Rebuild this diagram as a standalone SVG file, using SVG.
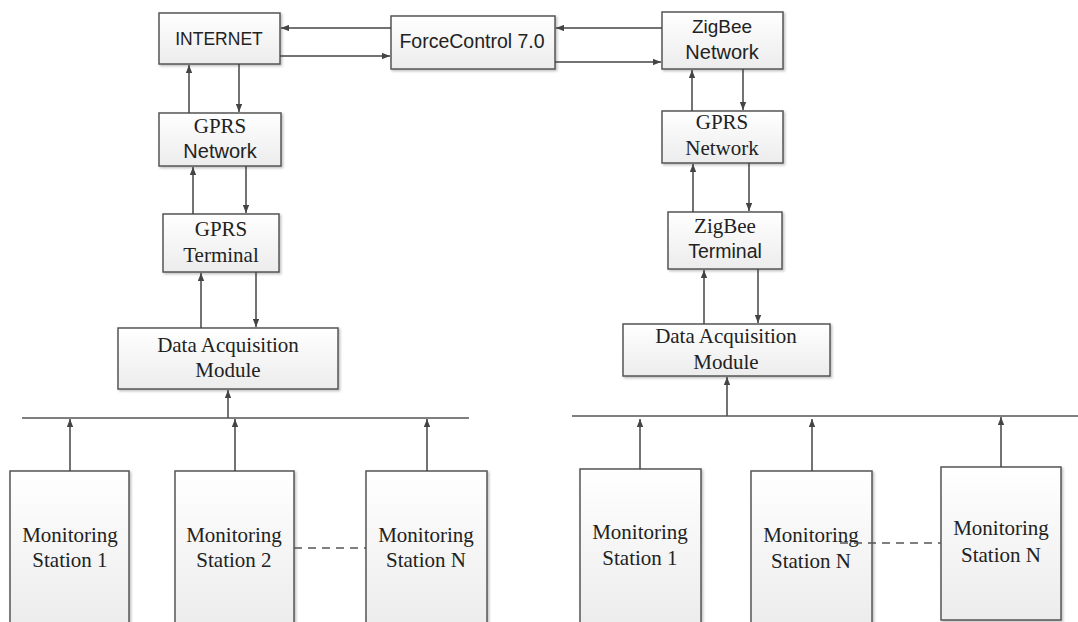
<svg xmlns="http://www.w3.org/2000/svg" width="1078" height="622" viewBox="0 0 1078 622">
  <defs>
    <linearGradient id="boxFill" x1="0" y1="0" x2="0" y2="1">
      <stop offset="0" stop-color="#ffffff"/>
      <stop offset="1" stop-color="#ececec"/>
    </linearGradient>
    <filter id="shadow" x="-5%" y="-5%" width="115%" height="115%">
      <feDropShadow dx="1.5" dy="1.5" stdDeviation="1" flood-color="#000" flood-opacity="0.25"/>
    </filter>
    <marker id="arrow" viewBox="0 0 10 8" refX="10" refY="4" markerWidth="8" markerHeight="6.4" markerUnits="userSpaceOnUse" orient="auto">
      <path d="M0,0 L10,4 L0,8 Z" fill="#444"/>
    </marker>
  </defs>
  <style>
    .box { fill: url(#boxFill); stroke: #555; stroke-width: 1.5; filter: url(#shadow); }
    .sans { font-family: "Liberation Sans", Arial, sans-serif; fill: #222; text-anchor: middle; }
    .serif { font-family: "Liberation Serif", "Times New Roman", serif; fill: #222; text-anchor: middle; font-size: 21px; }
    .link { stroke: #444; stroke-width: 1.5; fill: none; marker-end: url(#arrow); }
    .bus { stroke: #555; stroke-width: 1.5; fill: none; }
    .dash { stroke: #555; stroke-width: 1.5; fill: none; stroke-dasharray: 8 6; }
  </style>

  <rect width="1078" height="622" fill="#ffffff"/>

  <!-- top row -->
  <g id="internet">
    <rect class="box" x="159" y="13" width="121" height="51"/>
    <text class="sans" x="219" y="45" font-size="17.5">INTERNET</text>
  </g>
  <g id="forcecontrol">
    <rect class="box" x="391" y="16" width="164" height="53"/>
    <text class="sans" x="472" y="48" font-size="19.5">ForceControl 7.0</text>
  </g>
  <g id="zigbee-network">
    <rect class="box" x="662" y="12" width="121" height="57"/>
    <text class="sans" x="722" y="33" font-size="19">ZigBee</text>
    <text class="sans" x="722" y="59" font-size="20">Network</text>
  </g>

  <!-- left chain -->
  <g id="gprs-network-left">
    <rect class="box" x="159" y="113" width="122" height="53"/>
    <text class="serif" x="220" y="133">GPRS</text>
    <text class="sans" x="220" y="158" font-size="20">Network</text>
  </g>
  <g id="gprs-terminal">
    <rect class="box" x="163" y="214" width="116" height="58"/>
    <text class="serif" x="221" y="236">GPRS</text>
    <text class="serif" x="221" y="262">Terminal</text>
  </g>
  <g id="dam-left">
    <rect class="box" x="118" y="328" width="220" height="61"/>
    <text class="serif" x="228" y="352">Data Acquisition</text>
    <text class="serif" x="228" y="377">Module</text>
  </g>
  <g id="station-left-1">
    <rect class="box" x="10" y="471" width="119" height="155"/>
    <text class="serif" x="70" y="542">Monitoring</text>
    <text class="serif" x="70" y="567">Station 1</text>
  </g>
  <g id="station-left-2">
    <rect class="box" x="175" y="471" width="119" height="155"/>
    <text class="serif" x="234" y="542">Monitoring</text>
    <text class="serif" x="234" y="567">Station 2</text>
  </g>
  <g id="station-left-n">
    <rect class="box" x="366" y="471" width="121" height="155"/>
    <text class="serif" x="426" y="542">Monitoring</text>
    <text class="serif" x="426" y="567">Station N</text>
  </g>

  <!-- right chain -->
  <g id="gprs-network-right">
    <rect class="box" x="662" y="111" width="121" height="52"/>
    <text class="serif" x="722" y="129">GPRS</text>
    <text class="serif" x="722" y="155">Network</text>
  </g>
  <g id="zigbee-terminal">
    <rect class="box" x="668" y="212" width="114" height="57"/>
    <text class="serif" x="725" y="233">ZigBee</text>
    <text class="sans" x="725" y="258" font-size="19.5">Terminal</text>
  </g>
  <g id="dam-right">
    <rect class="box" x="623" y="324" width="207" height="52"/>
    <text class="serif" x="726" y="343">Data Acquisition</text>
    <text class="serif" x="726" y="369">Module</text>
  </g>
  <g id="station-right-1">
    <rect class="box" x="580" y="469" width="121" height="157"/>
    <text class="serif" x="640" y="539">Monitoring</text>
    <text class="serif" x="640" y="565">Station 1</text>
  </g>
  <g id="station-right-2">
    <rect class="box" x="751" y="471" width="121" height="155"/>
    <text class="serif" x="811" y="542">Monitoring</text>
    <text class="serif" x="811" y="568">Station N</text>
  </g>
  <g id="station-right-n">
    <rect class="box" x="941" y="467" width="120" height="153"/>
    <text class="serif" x="1001" y="535">Monitoring</text>
    <text class="serif" x="1001" y="562">Station N</text>
  </g>

  <!-- connectors -->
  <g id="connectors">
    <!-- top row exchanges -->
    <line class="link" x1="391" y1="28" x2="281" y2="28"/>
    <line class="link" x1="280" y1="56" x2="390" y2="56"/>
    <line class="link" x1="662" y1="28" x2="556" y2="28"/>
    <line class="link" x1="555" y1="62" x2="661" y2="62"/>

    <!-- left vertical chain -->
    <line class="link" x1="189" y1="113" x2="189" y2="65"/>
    <line class="link" x1="239" y1="64" x2="239" y2="112"/>
    <line class="link" x1="193" y1="214" x2="193" y2="167"/>
    <line class="link" x1="246" y1="166" x2="246" y2="213"/>
    <line class="link" x1="201" y1="328" x2="201" y2="273"/>
    <line class="link" x1="256" y1="272" x2="256" y2="327"/>
    <line class="link" x1="228" y1="418" x2="228" y2="390"/>

    <!-- left bus and stations -->
    <line class="bus" x1="22" y1="418" x2="469" y2="418"/>
    <line class="link" x1="70" y1="471" x2="70" y2="419"/>
    <line class="link" x1="235" y1="471" x2="235" y2="419"/>
    <line class="link" x1="427" y1="471" x2="427" y2="419"/>
    <line class="dash" x1="294" y1="548" x2="366" y2="548"/>

    <!-- right vertical chain -->
    <line class="link" x1="692" y1="111" x2="692" y2="70"/>
    <line class="link" x1="743" y1="69" x2="743" y2="110"/>
    <line class="link" x1="693" y1="212" x2="693" y2="164"/>
    <line class="link" x1="749" y1="163" x2="749" y2="211"/>
    <line class="link" x1="704" y1="324" x2="704" y2="270"/>
    <line class="link" x1="758" y1="269" x2="758" y2="323"/>
    <line class="link" x1="727" y1="416" x2="727" y2="377"/>

    <!-- right bus and stations -->
    <line class="bus" x1="572" y1="416" x2="1078" y2="416"/>
    <line class="link" x1="640" y1="469" x2="640" y2="419"/>
    <line class="link" x1="812" y1="471" x2="812" y2="419"/>
    <line class="link" x1="1001" y1="467" x2="1001" y2="417"/>
    <line class="dash" x1="840" y1="543" x2="941" y2="543"/>
  </g>
</svg>
